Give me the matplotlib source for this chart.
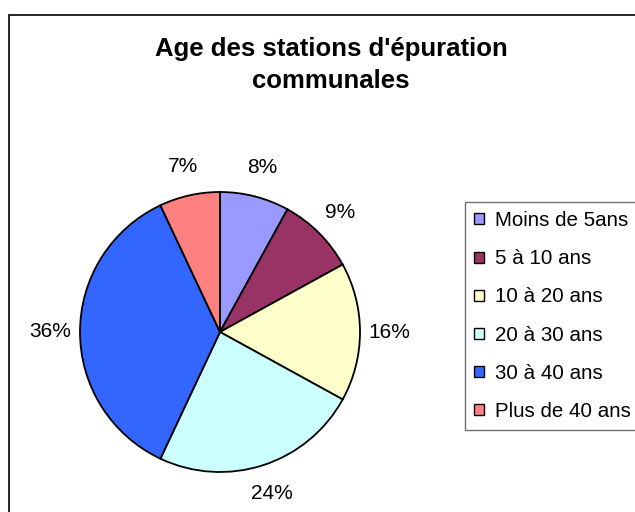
import matplotlib
matplotlib.use("Agg")
import matplotlib.pyplot as plt
from matplotlib.patches import Rectangle

plt.rcParams['font.family'] = ['Liberation Sans', 'DejaVu Sans']

# ---- data ----
categories = ["Moins de 5ans", "5 à 10 ans", "10 à 20 ans",
              "20 à 30 ans", "30 à 40 ans", "Plus de 40 ans"]
shares = [8, 9, 16, 24, 36, 7]
colors = ["#9999FF", "#993366", "#FFFFCC", "#CCFFFF", "#3366FF", "#FF8080"]
title = "Age des stations d'épuration\ncommunales"

W, H = 635, 512
fig = plt.figure(figsize=(W / 100, H / 100), dpi=100)

# outer chart border (runs off the right/bottom edge like the original)
fig.patches.append(Rectangle((9 / W, -0.05), 1.1, 1.05 - 15 / H,
                             transform=fig.transFigure, fill=False,
                             edgecolor="black", linewidth=1.2))

fig.text(331 / W, 1 - 65 / H, title, ha="center", va="center",
         fontsize=18.5, fontweight="bold", linespacing=1.42)

# pie centred at (220, 332) px, radius 140 px
ax = fig.add_axes([80 / W, 40 / H, 280 / W, 280 / H])
wedges, texts, autotexts = ax.pie(
    shares, colors=colors, startangle=90, counterclock=False,
    autopct="%1.0f%%", pctdistance=1.21,
    wedgeprops=dict(edgecolor="black", linewidth=1.3),
    textprops=dict(fontsize=15))
ax.set_xlim(-1, 1)
ax.set_ylim(-1, 1)
ax.set_aspect("auto")
ax.axis("off")

leg = fig.legend(wedges, categories, loc="upper left",
                 bbox_to_anchor=(465 / W, 1 - 202 / H), borderaxespad=0,
                 fontsize=14.8, frameon=True, fancybox=False,
                 edgecolor="#707070", framealpha=1,
                 handlelength=0.45, handleheight=0.45, handletextpad=0.55,
                 labelspacing=0.93, borderpad=0.45)
leg.get_frame().set_linewidth(1.0)
for h in leg.legend_handles:
    h.set_linewidth(1.0)

fig.savefig("out.png", dpi=100)
